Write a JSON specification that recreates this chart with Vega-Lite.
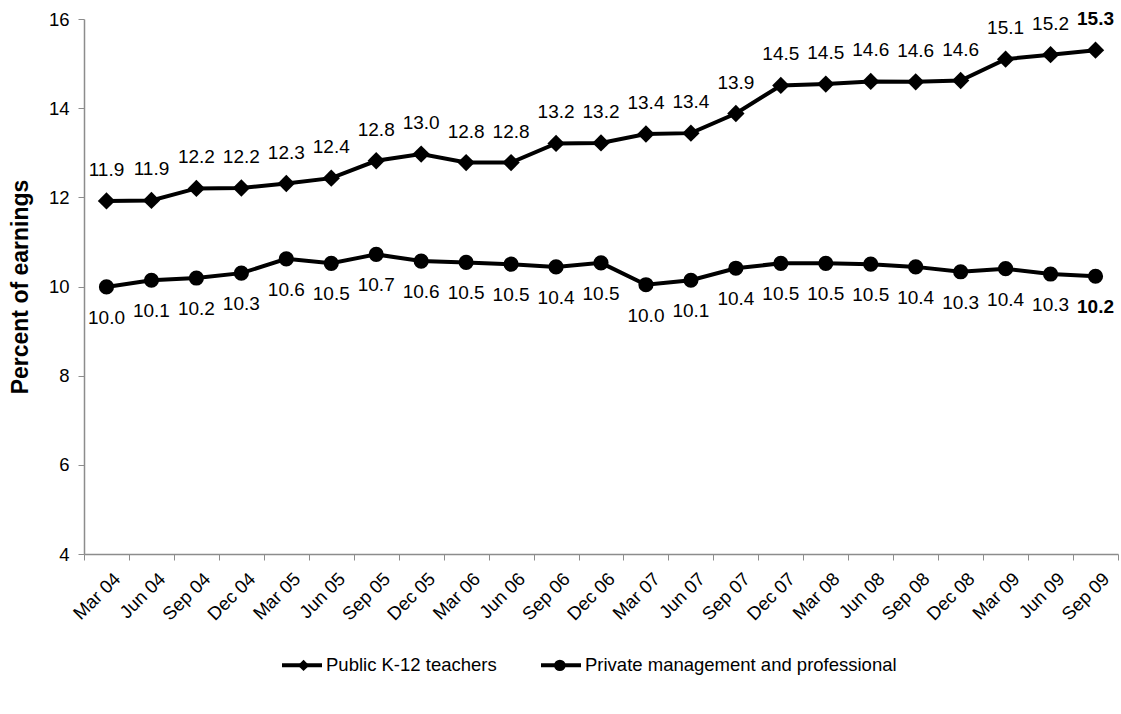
{
  "$schema": "https://vega.github.io/schema/vega-lite/v6.json",
  "autosize": "none",
  "width": 1034,
  "height": 535,
  "padding": {"left": 84, "top": 19, "right": 3, "bottom": 160},
  "background": "white",
  "config": {
    "view": {"stroke": null},
    "font": "Liberation Sans",
    "axis": {"labelFont": "Liberation Sans", "titleFont": "Liberation Sans"}
  },
  "data": {
    "values": [
      {"month": "Mar 04", "series": "Public K-12 teachers", "value": 11.92},
      {"month": "Jun 04", "series": "Public K-12 teachers", "value": 11.93},
      {"month": "Sep 04", "series": "Public K-12 teachers", "value": 12.2},
      {"month": "Dec 04", "series": "Public K-12 teachers", "value": 12.21},
      {"month": "Mar 05", "series": "Public K-12 teachers", "value": 12.31},
      {"month": "Jun 05", "series": "Public K-12 teachers", "value": 12.43},
      {"month": "Sep 05", "series": "Public K-12 teachers", "value": 12.82},
      {"month": "Dec 05", "series": "Public K-12 teachers", "value": 12.97},
      {"month": "Mar 06", "series": "Public K-12 teachers", "value": 12.78},
      {"month": "Jun 06", "series": "Public K-12 teachers", "value": 12.78},
      {"month": "Sep 06", "series": "Public K-12 teachers", "value": 13.21},
      {"month": "Dec 06", "series": "Public K-12 teachers", "value": 13.22},
      {"month": "Mar 07", "series": "Public K-12 teachers", "value": 13.42},
      {"month": "Jun 07", "series": "Public K-12 teachers", "value": 13.44},
      {"month": "Sep 07", "series": "Public K-12 teachers", "value": 13.88},
      {"month": "Dec 07", "series": "Public K-12 teachers", "value": 14.51},
      {"month": "Mar 08", "series": "Public K-12 teachers", "value": 14.54},
      {"month": "Jun 08", "series": "Public K-12 teachers", "value": 14.6},
      {"month": "Sep 08", "series": "Public K-12 teachers", "value": 14.59},
      {"month": "Dec 08", "series": "Public K-12 teachers", "value": 14.62},
      {"month": "Mar 09", "series": "Public K-12 teachers", "value": 15.1},
      {"month": "Jun 09", "series": "Public K-12 teachers", "value": 15.2},
      {"month": "Sep 09", "series": "Public K-12 teachers", "value": 15.3},
      {"month": "Mar 04", "series": "Private management and professional", "value": 9.99},
      {"month": "Jun 04", "series": "Private management and professional", "value": 10.14},
      {"month": "Sep 04", "series": "Private management and professional", "value": 10.19},
      {"month": "Dec 04", "series": "Private management and professional", "value": 10.3},
      {"month": "Mar 05", "series": "Private management and professional", "value": 10.62},
      {"month": "Jun 05", "series": "Private management and professional", "value": 10.52},
      {"month": "Sep 05", "series": "Private management and professional", "value": 10.72},
      {"month": "Dec 05", "series": "Private management and professional", "value": 10.57},
      {"month": "Mar 06", "series": "Private management and professional", "value": 10.54},
      {"month": "Jun 06", "series": "Private management and professional", "value": 10.5},
      {"month": "Sep 06", "series": "Private management and professional", "value": 10.44},
      {"month": "Dec 06", "series": "Private management and professional", "value": 10.53},
      {"month": "Mar 07", "series": "Private management and professional", "value": 10.04},
      {"month": "Jun 07", "series": "Private management and professional", "value": 10.14},
      {"month": "Sep 07", "series": "Private management and professional", "value": 10.41},
      {"month": "Dec 07", "series": "Private management and professional", "value": 10.52},
      {"month": "Mar 08", "series": "Private management and professional", "value": 10.52},
      {"month": "Jun 08", "series": "Private management and professional", "value": 10.5},
      {"month": "Sep 08", "series": "Private management and professional", "value": 10.44},
      {"month": "Dec 08", "series": "Private management and professional", "value": 10.33},
      {"month": "Mar 09", "series": "Private management and professional", "value": 10.4},
      {"month": "Jun 09", "series": "Private management and professional", "value": 10.28},
      {"month": "Sep 09", "series": "Private management and professional", "value": 10.23}
    ]
  },
  "encoding": {
    "x": {
      "field": "month",
      "type": "ordinal",
      "sort": null,
      "scale": {"type": "band", "paddingInner": 0, "paddingOuter": 0},
      "axis": {
        "title": null,
        "tickBand": "extent",
        "labelAngle": -45,
        "labelAlign": "right",
        "labelBaseline": "top",
        "labelFontSize": 18.5,
        "labelColor": "black",
        "labelPadding": 9,
        "labelOffset": 4,
        "tickSize": 6,
        "tickColor": "#8c8c8c",
        "domainColor": "#8c8c8c",
        "domainWidth": 1.5,
        "grid": false
      }
    },
    "y": {
      "field": "value",
      "type": "quantitative",
      "scale": {"domain": [4, 16], "nice": false, "zero": false},
      "axis": {
        "title": "Percent of earnings",
        "titleFontSize": 23,
        "titleFontWeight": "bold",
        "titleColor": "black",
        "titlePadding": 16,
        "values": [4, 6, 8, 10, 12, 14, 16],
        "labelFontSize": 18.5,
        "labelColor": "black",
        "labelPadding": 9,
        "tickSize": 6,
        "tickColor": "#8c8c8c",
        "domainColor": "#8c8c8c",
        "domainWidth": 1.5,
        "grid": false
      }
    }
  },
  "layer": [
    {
      "mark": {"type": "line", "strokeWidth": 4},
      "encoding": {
        "color": {
          "field": "series",
          "type": "nominal",
          "scale": {"domain": ["Public K-12 teachers", "Private management and professional"], "range": ["black", "black"]},
          "legend": {
            "title": null,
            "orient": "none",
            "direction": "horizontal",
            "legendX": 196,
            "legendY": 624,
            "labelFontSize": 18.5,
            "labelColor": "black",
            "labelFont": "Liberation Sans",
            "labelLimit": 0,
            "labelOffset": 2,
            "columnPadding": 36,
            "symbolType": "stroke",
            "symbolSize": 1600,
            "symbolStrokeWidth": 4,
            "symbolStrokeColor": "black"
          }
        }
      }
    },
    {
      "mark": {"type": "point", "filled": true, "opacity": 1, "color": "black"},
      "encoding": {
        "shape": {
          "field": "series",
          "type": "nominal",
          "sort": {"field": "value", "op": "max", "order": "descending"},
          "scale": {"range": ["diamond", "circle"]},
          "legend": {
            "title": null,
            "orient": "none",
            "direction": "horizontal",
            "legendX": 210.3,
            "legendY": 637,
            "labelFontSize": 18.5,
            "labelExpr": "''",
            "labelFont": "Liberation Sans",
            "labelOffset": 0,
            "columnPadding": 237.3,
            "symbolSize": 130,
            "symbolFillColor": "black",
            "symbolStrokeWidth": 0,
            "symbolOpacity": 1
          }
        },
        "size": {
          "field": "series",
          "type": "nominal",
          "scale": {"domain": ["Private management and professional", "Public K-12 teachers"], "range": [230, 300]},
          "legend": null
        }
      }
    },
    {
      "transform": [{"filter": "datum.series === 'Public K-12 teachers' && datum.month !== 'Sep 09'"}],
      "mark": {"type": "text", "dy": -31, "fontSize": 19, "color": "black"},
      "encoding": {"text": {"field": "value", "type": "quantitative", "format": ".1f"}}
    },
    {
      "transform": [{"filter": "datum.series === 'Public K-12 teachers' && datum.month === 'Sep 09'"}],
      "mark": {"type": "text", "dy": -31, "fontSize": 19, "fontWeight": "bold", "color": "black"},
      "encoding": {"text": {"field": "value", "type": "quantitative", "format": ".1f"}}
    },
    {
      "transform": [{"filter": "datum.series !== 'Public K-12 teachers' && datum.month !== 'Sep 09'"}],
      "mark": {"type": "text", "dy": 31, "fontSize": 19, "color": "black"},
      "encoding": {"text": {"field": "value", "type": "quantitative", "format": ".1f"}}
    },
    {
      "transform": [{"filter": "datum.series !== 'Public K-12 teachers' && datum.month === 'Sep 09'"}],
      "mark": {"type": "text", "dy": 31, "fontSize": 19, "fontWeight": "bold", "color": "black"},
      "encoding": {"text": {"field": "value", "type": "quantitative", "format": ".1f"}}
    }
  ]
}
